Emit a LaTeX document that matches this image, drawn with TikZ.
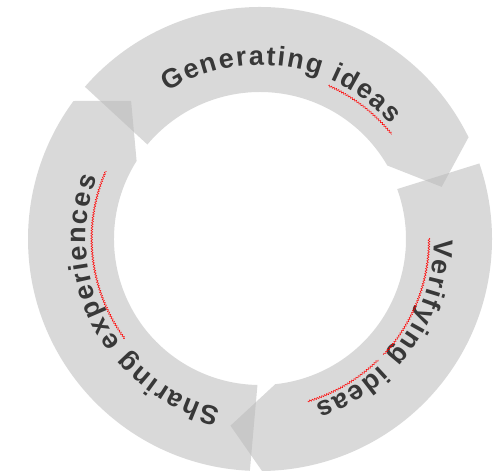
\documentclass[tikz,border=0pt]{standalone}
\usepackage{fontspec}
\usepackage{tikz}
\usetikzlibrary{decorations.text,decorations.pathmorphing}
\newfontfamily\arcfont{Liberation Sans}
\definecolor{segfill}{RGB}{186,186,186}
\definecolor{txtgray}{RGB}{56,56,56}
\tikzset{
  segment/.style={fill=segfill,fill opacity=0.55,draw=none},
  arclabel/.style={decorate,decoration={text along path,text align=center,
    text={|\arcfont\bfseries\fontsize{27}{31}\selectfont\color{txtgray}\kern1.8pt|#1}}},
  squiggle/.style={draw=red,line width=0.5pt,decorate,
    decoration={snake,amplitude=0.9pt,segment length=2.6pt}}
}
\begin{document}
\begin{tikzpicture}[x=1pt,y=1pt]
\useasboundingbox (0,0) rectangle (498,474);
\begin{scope}[shift={(260,235)}]

\path[segment] (139:232) arc[start angle=139,end angle=26,radius=232] -- (16:189) -- (30:147) arc[start angle=30,end angle=140,radius=147] -- cycle;
\path[segment] (19:232) arc[start angle=19,end angle=-89.5,radius=232] -- (-99:189) -- (-84:146) arc[start angle=-84,end angle=20,radius=146] -- cycle;
\path[segment] (267.5:232) arc[start angle=267.5,end angle=143.5,radius=232] -- (133:189) -- (147.7:146) arc[start angle=147.7,end angle=269,radius=146] -- cycle;

\path[arclabel={Generating ideas}] (142:174) arc[start angle=142,end angle=22,radius=174];
\path[arclabel={Verifying ideas}] (24.5:174) arc[start angle=24.5,end angle=-95.5,radius=174];
\path[arclabel={Sharing experiences}] (268.5:174) arc[start angle=268.5,end angle=148.5,radius=174];

\path[squiggle] (66:168) arc[start angle=66,end angle=38.5,radius=168];
\path[squiggle] (0.3:169) arc[start angle=0.3,end angle=-43.3,radius=169];
\path[squiggle] (-45.7:169) arc[start angle=-45.7,end angle=-73.6,radius=169];
\path[squiggle] (216.4:168) arc[start angle=216.4,end angle=156.4,radius=168];
\end{scope}
\end{tikzpicture}
\end{document}
